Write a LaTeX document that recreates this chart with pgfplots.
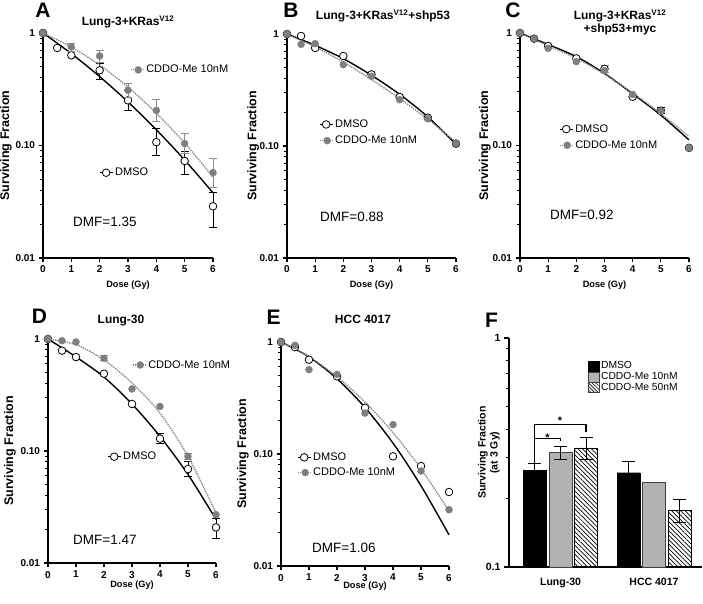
\documentclass[border=0pt]{standalone}
\usepackage{fontspec}
\setmainfont{Liberation Sans}
\usepackage{pgfplots}
\pgfplotsset{compat=1.18}
\usetikzlibrary{patterns,patterns.meta}
\definecolor{mgray}{HTML}{7F7F7F}
\definecolor{lgray}{HTML}{8A8A8A}
\definecolor{bgray}{HTML}{B2B2B2}
\definecolor{egray}{HTML}{8C8C8C}

\begin{document}
\begin{tikzpicture}
\path[use as bounding box] (0pt,0pt) rectangle (703pt,604pt);

% ================= A =================
\begin{axis}[scale only axis, clip=false, at={(43pt,346pt)}, anchor=south west, width=170pt, height=225pt,
  ymode=log, xmin=0, xmax=6, ymin=0.01, ymax=1,
  axis x line=bottom, axis y line=left, axis line style={line width=1.5pt, black, -},
  tick align=outside, xtick={0,1,2,3,4,5,6}, xticklabels={0,1,2,3,4,5,6},
  ytick={0.01,0.1,1}, yticklabels={0.01,0.10,1},
  extra y ticks={0.02,0.03,0.04,0.05,0.06,0.07,0.08,0.09,0.2,0.3,0.4,0.5,0.6,0.7,0.8,0.9},
  extra y tick labels={}, extra y tick style={major tick length=3pt},
  major tick length=4.5pt,
  every tick/.style={line width=1.1pt, black},
  tick label style={font=\bfseries\fontsize{10}{10}\selectfont},
  xlabel={Dose (Gy)}, ylabel={Surviving Fraction},
  xlabel style={font=\bfseries\fontsize{9.2}{10}\selectfont, anchor=center, at={(axis description cs:0.5,-0.12)}},
  ylabel style={font=\bfseries\fontsize{12.5}{13}\selectfont, anchor=center, at={(axis description cs:-0.218,0.5)}},
  legend style={draw=none, fill=none, font=\fontsize{11}{12}\selectfont, at={(0.311,0.379)}, anchor=west},
  legend cell align=left]
\addplot[black, line width=1.4pt, smooth, no marks, forget plot] coordinates {(0,1) (1,0.656) (2,0.41) (3,0.244) (4,0.138) (5,0.0743) (6,0.038)};
\addplot[black, only marks, mark=none, forget plot, error bars/y dir=both, error bars/y explicit,
  error bars/error bar style={line width=0.9pt}, error bars/error mark options={rotate=90, mark size=4pt, line width=0.9pt}]
  coordinates {(2,0.466) += (0,0.068) -= (0,0.079) (3,0.252) += (0,0.058) -= (0,0.047)
  (4,0.107) += (0,0.034) -= (0,0.026) (5,0.0728) += (0,0.0165) -= (0,0.0177) (6,0.0288) += (0,0.0098) -= (0,0.0101)};
\addplot[only marks, mark=*, mark size=3.8pt, mark options={fill=white, draw=black, line width=0.8pt}, forget plot]
  coordinates {(0,1) (0.5,0.736) (1,0.633) (2,0.466) (3,0.252) (4,0.107) (5,0.0728) (6,0.0288)};
\addlegendimage{legend image code/.code={\draw[black,line width=1.1pt] (0pt,0pt) -- (13pt,0pt); \draw[black,line width=0.8pt,fill=white] (6.5pt,0pt) circle (3.8pt);}}
\addlegendentry{DMSO}
\end{axis}
\begin{axis}[scale only axis, clip=false, hide axis, at={(43pt,346pt)}, anchor=south west, width=170pt, height=225pt,
  ymode=log, xmin=0, xmax=6, ymin=0.01, ymax=1,
  legend style={draw=none, fill=none, font=\fontsize{11}{12}\selectfont, at={(0.494,0.836)}, anchor=west},
  legend cell align=left]
\addplot[lgray, line width=1.4pt, densely dotted, smooth, no marks, forget plot] coordinates {(0,1) (1,0.75) (2,0.52) (3,0.33) (4,0.194) (5,0.105) (6,0.0525)};
\addplot[egray, only marks, mark=none, forget plot, error bars/y dir=both, error bars/y explicit,
  error bars/error bar style={line width=0.9pt}, error bars/error mark options={rotate=90, mark size=4pt, line width=0.9pt}]
  coordinates {(1,0.751) += (0,0.064) -= (0,0.06) (2,0.625) += (0,0.075) -= (0,0.075)
  (3,0.31) += (0,0.044) -= (0,0.04) (4,0.205) += (0,0.052) -= (0,0.042) (5,0.104) += (0,0.024) -= (0,0.019)
  (6,0.0574) += (0,0.0201) -= (0,0.0147)};
\addplot[only marks, mark=*, mark size=3.5pt, mark options={fill=mgray, draw=mgray}, forget plot]
  coordinates {(0,1) (1,0.751) (2,0.625) (3,0.31) (4,0.205) (5,0.104) (6,0.0574)};
\addlegendimage{legend image code/.code={\draw[lgray,line width=1.1pt,densely dotted] (0pt,0pt) -- (13pt,0pt); \draw[mgray,fill=mgray] (7.5pt,0pt) circle (3.5pt);}}
\addlegendentry{CDDO-Me 10nM}
\end{axis}

% ================= B =================
\begin{axis}[scale only axis, clip=false, at={(287pt,346pt)}, anchor=south west, width=169pt, height=224pt,
  ymode=log, xmin=0, xmax=6, ymin=0.01, ymax=1,
  axis x line=bottom, axis y line=left, axis line style={line width=1.5pt, black, -},
  tick align=outside, xtick={0,1,2,3,4,5,6}, xticklabels={0,1,2,3,4,5,6},
  ytick={0.01,0.1,1}, yticklabels={0.01,0.10,1},
  extra y ticks={0.02,0.03,0.04,0.05,0.06,0.07,0.08,0.09,0.2,0.3,0.4,0.5,0.6,0.7,0.8,0.9},
  extra y tick labels={}, extra y tick style={major tick length=3pt},
  major tick length=4.5pt,
  every tick/.style={line width=1.1pt, black},
  tick label style={font=\bfseries\fontsize{10}{10}\selectfont},
  xlabel={Dose (Gy)}, ylabel={Surviving Fraction},
  xlabel style={font=\bfseries\fontsize{9.2}{10}\selectfont, anchor=center, at={(axis description cs:0.5,-0.12)}},
  ylabel style={font=\bfseries\fontsize{12.5}{13}\selectfont, anchor=center, at={(axis description cs:-0.2,0.5)}},
  legend style={draw=none, fill=none, font=\fontsize{11}{12}\selectfont, at={(0.171,0.560)}, anchor=west, row sep=3pt},
  legend cell align=left]
\addplot[black, line width=1.4pt, smooth, no marks, forget plot] coordinates {(0,1) (1,0.792) (2,0.602) (3,0.428) (4,0.289) (5,0.182) (6,0.1035)};
\addplot[lgray, line width=1.4pt, densely dotted, smooth, no marks, forget plot] coordinates {(0,1) (1,0.765) (2,0.562) (3,0.391) (4,0.265) (5,0.173) (6,0.1086)};
\addplot[only marks, mark=*, mark size=3.8pt, mark options={fill=white, draw=black, line width=0.8pt}, forget plot]
  coordinates {(0,1) (0.5,0.96) (1,0.75) (2,0.636) (3,0.436) (4,0.274) (5,0.179) (6,0.105)};
\addplot[only marks, mark=*, mark size=3.5pt, mark options={fill=mgray, draw=mgray}, forget plot]
  coordinates {(0,1) (0.5,0.809) (1,0.82) (2,0.532) (3,0.419) (4,0.259) (5,0.175) (6,0.106)};
\addlegendimage{legend image code/.code={\draw[black,line width=1.1pt] (0pt,0pt) -- (13pt,0pt); \draw[black,line width=0.8pt,fill=white] (6.5pt,0pt) circle (3.8pt);}}
\addlegendentry{DMSO}
\addlegendimage{legend image code/.code={\draw[lgray,line width=1.1pt,densely dotted] (0pt,0pt) -- (13pt,0pt); \draw[mgray,fill=mgray] (7.5pt,0pt) circle (3.5pt);}}
\addlegendentry{CDDO-Me 10nM}
\end{axis}

% ================= C =================
\begin{axis}[scale only axis, clip=false, at={(520pt,346pt)}, anchor=south west, width=169pt, height=225pt,
  ymode=log, xmin=0, xmax=6, ymin=0.01, ymax=1,
  axis x line=bottom, axis y line=left, axis line style={line width=1.5pt, black, -},
  tick align=outside, xtick={0,1,2,3,4,5,6}, xticklabels={0,1,2,3,4,5,6},
  ytick={0.01,0.1,1}, yticklabels={0.01,0.10,1},
  extra y ticks={0.02,0.03,0.04,0.05,0.06,0.07,0.08,0.09,0.2,0.3,0.4,0.5,0.6,0.7,0.8,0.9},
  extra y tick labels={}, extra y tick style={major tick length=3pt},
  major tick length=4.5pt,
  every tick/.style={line width=1.1pt, black},
  tick label style={font=\bfseries\fontsize{10}{10}\selectfont},
  xlabel={Dose (Gy)}, ylabel={Surviving Fraction},
  xlabel style={font=\bfseries\fontsize{9.2}{10}\selectfont, anchor=center, at={(axis description cs:0.5,-0.12)}},
  ylabel style={font=\bfseries\fontsize{12.5}{13}\selectfont, anchor=center, at={(axis description cs:-0.207,0.5)}},
  legend style={draw=none, fill=none, font=\fontsize{11}{12}\selectfont, at={(0.213,0.537)}, anchor=west, row sep=3pt},
  legend cell align=left]
\addplot[black, line width=1.4pt, smooth, no marks, forget plot] coordinates {(0,1) (1,0.79) (2,0.616) (3,0.437) (4,0.288) (5,0.186) (6,0.112)};
\addplot[lgray, line width=1.4pt, densely dotted, smooth, no marks, forget plot] coordinates {(0,1) (1,0.77) (2,0.595) (3,0.43) (4,0.293) (5,0.192) (6,0.12)};
\addplot[black, only marks, mark=none, forget plot, error bars/y dir=both, error bars/y explicit,
  error bars/error bar style={line width=0.9pt}, error bars/error mark options={rotate=90, mark size=4pt, line width=0.9pt}]
  coordinates {(5,0.204) += (0,0.012) -= (0,0.01)};
\addplot[egray, only marks, mark=none, forget plot, error bars/y dir=both, error bars/y explicit,
  error bars/error bar style={line width=0.9pt}, error bars/error mark options={rotate=90, mark size=4pt, line width=0.9pt}]
  coordinates {(3,0.462) += (0,0.05) -= (0,0.02)};
\addplot[only marks, mark=*, mark size=3.8pt, mark options={fill=white, draw=black, line width=0.8pt}, forget plot]
  coordinates {(0,1) (0.5,0.89) (1,0.766) (2,0.595) (3,0.48) (4,0.271) (5,0.204) (6,0.0953)};
\addplot[only marks, mark=*, mark size=3.5pt, mark options={fill=mgray, draw=mgray}, forget plot]
  coordinates {(0,1) (0.5,0.89) (1,0.73) (2,0.556) (3,0.462) (4,0.284) (5,0.202) (6,0.0953)};
\addlegendimage{legend image code/.code={\draw[black,line width=1.1pt] (0pt,0pt) -- (13pt,0pt); \draw[black,line width=0.8pt,fill=white] (6.5pt,0pt) circle (3.8pt);}}
\addlegendentry{DMSO}
\addlegendimage{legend image code/.code={\draw[lgray,line width=1.1pt,densely dotted] (0pt,0pt) -- (13pt,0pt); \draw[mgray,fill=mgray] (7.5pt,0pt) circle (3.5pt);}}
\addlegendentry{CDDO-Me 10nM}
\end{axis}

% ================= D =================
\begin{axis}[scale only axis, clip=false, at={(48pt,41pt)}, anchor=south west, width=168pt, height=224pt,
  ymode=log, xmin=0, xmax=6, ymin=0.01, ymax=1,
  axis x line=bottom, axis y line=left, axis line style={line width=1.5pt, black, -},
  tick align=outside, xtick={0,1,2,3,4,5,6}, xticklabels={0,1,2,3,4,5,6},
  ytick={0.01,0.1,1}, yticklabels={0.01,0.10,1},
  extra y ticks={0.02,0.03,0.04,0.05,0.06,0.07,0.08,0.09,0.2,0.3,0.4,0.5,0.6,0.7,0.8,0.9},
  extra y tick labels={}, extra y tick style={major tick length=3pt},
  major tick length=4.5pt,
  every tick/.style={line width=1.1pt, black},
  tick label style={font=\bfseries\fontsize{10}{10}\selectfont},
  xlabel={Dose (Gy)}, ylabel={Surviving Fraction},
  xlabel style={font=\bfseries\fontsize{9.2}{10}\selectfont, anchor=center, at={(axis description cs:0.5,-0.098)}},
  ylabel style={font=\bfseries\fontsize{12.5}{13}\selectfont, anchor=center, at={(axis description cs:-0.226,0.5)}},
  legend style={draw=none, fill=none, font=\fontsize{11}{12}\selectfont, at={(0.333,0.4745)}, anchor=west},
  legend cell align=left]
\addplot[black, line width=1.4pt, smooth, no marks, forget plot] coordinates {(0,1) (1,0.692) (2,0.457) (3,0.263) (4,0.135) (5,0.0617) (6,0.0245)};
\addplot[black, only marks, mark=none, forget plot, error bars/y dir=both, error bars/y explicit,
  error bars/error bar style={line width=0.9pt}, error bars/error mark options={rotate=90, mark size=4pt, line width=0.9pt}]
  coordinates {(4,0.129) += (0,0.014) -= (0,0.013) (5,0.069) += (0,0.011) -= (0,0.0096) (6,0.0208) += (0,0.0044) -= (0,0.0043)};
\addplot[only marks, mark=*, mark size=3.8pt, mark options={fill=white, draw=black, line width=0.8pt}, forget plot]
  coordinates {(0,1) (0.5,0.787) (1,0.69) (2,0.49) (3,0.263) (4,0.129) (5,0.069) (6,0.0208)};
\addlegendimage{legend image code/.code={\draw[black,line width=1.1pt] (0pt,0pt) -- (13pt,0pt); \draw[black,line width=0.8pt,fill=white] (6.5pt,0pt) circle (3.8pt);}}
\addlegendentry{DMSO}
\end{axis}
\begin{axis}[scale only axis, clip=false, hide axis, at={(48pt,41pt)}, anchor=south west, width=168pt, height=224pt,
  ymode=log, xmin=0, xmax=6, ymin=0.01, ymax=1,
  legend style={draw=none, fill=none, font=\fontsize{11}{12}\selectfont, at={(0.482,0.884)}, anchor=west},
  legend cell align=left]
\addplot[lgray, line width=1.4pt, densely dotted, smooth, no marks, forget plot] coordinates {(0,1) (1,0.89) (2,0.65) (3,0.405) (4,0.218) (5,0.0896) (6,0.028)};
\addplot[egray, only marks, mark=none, forget plot, error bars/y dir=both, error bars/y explicit,
  error bars/error bar style={line width=0.9pt}, error bars/error mark options={rotate=90, mark size=4pt, line width=0.9pt}]
  coordinates {(2,0.672) += (0,0.04) -= (0,0.03) (5,0.0896) += (0,0.005) -= (0,0.005)};
\addplot[only marks, mark=*, mark size=3.5pt, mark options={fill=mgray, draw=mgray}, forget plot]
  coordinates {(0,1) (0.5,0.966) (1,0.94) (2,0.672) (3,0.358) (4,0.25) (5,0.0896) (6,0.027)};
\addlegendimage{legend image code/.code={\draw[lgray,line width=1.1pt,densely dotted] (0pt,0pt) -- (13pt,0pt); \draw[mgray,fill=mgray] (7.5pt,0pt) circle (3.5pt);}}
\addlegendentry{CDDO-Me 10nM}
\end{axis}

% ================= E =================
\begin{axis}[scale only axis, clip=false, at={(281pt,38pt)}, anchor=south west, width=168pt, height=224pt,
  ymode=log, xmin=0, xmax=6, ymin=0.01, ymax=1,
  axis x line=bottom, axis y line=left, axis line style={line width=1.5pt, black, -},
  tick align=outside, xtick={0,1,2,3,4,5,6}, xticklabels={0,1,2,3,4,5,6},
  ytick={0.01,0.1,1}, yticklabels={0.01,0.10,1},
  extra y ticks={0.02,0.03,0.04,0.05,0.06,0.07,0.08,0.09,0.2,0.3,0.4,0.5,0.6,0.7,0.8,0.9},
  extra y tick labels={}, extra y tick style={major tick length=3pt},
  major tick length=4.5pt,
  every tick/.style={line width=1.1pt, black},
  tick label style={font=\bfseries\fontsize{10}{10}\selectfont},
  xlabel={Dose (Gy)}, ylabel={Surviving Fraction},
  xlabel style={font=\bfseries\fontsize{9.2}{10}\selectfont, anchor=center, at={(axis description cs:0.5,-0.092)}},
  ylabel style={font=\bfseries\fontsize{12.5}{13}\selectfont, anchor=center, at={(axis description cs:-0.226,0.5)}},
  legend style={draw=none, fill=none, font=\fontsize{11}{12}\selectfont, at={(0.077,0.451)}, anchor=west, row sep=2pt},
  legend cell align=left]
\addplot[black, line width=1.4pt, smooth, no marks, forget plot] coordinates {(0,1) (1,0.736) (2,0.47) (3,0.26) (4,0.125) (5,0.052) (6,0.019)};
\addplot[lgray, line width=1.4pt, densely dotted, smooth, no marks, forget plot] coordinates {(0,1) (1,0.74) (2,0.49) (3,0.291) (4,0.155) (5,0.074) (6,0.031)};
\addplot[only marks, mark=*, mark size=3.8pt, mark options={fill=white, draw=black, line width=0.8pt}, forget plot]
  coordinates {(0,1) (0.5,0.9) (1,0.695) (2,0.494) (3,0.259) (4,0.0953) (5,0.078) (6,0.0458)};
\addplot[only marks, mark=*, mark size=3.5pt, mark options={fill=mgray, draw=mgray}, forget plot]
  coordinates {(0,1) (0.5,0.934) (1,0.566) (2,0.514) (3,0.232) (4,0.183) (5,0.0705) (6,0.0318)};
\addlegendimage{legend image code/.code={\draw[black,line width=1.1pt] (0pt,0pt) -- (13pt,0pt); \draw[black,line width=0.8pt,fill=white] (6.5pt,0pt) circle (3.8pt);}}
\addlegendentry{DMSO}
\addlegendimage{legend image code/.code={\draw[lgray,line width=1.1pt,densely dotted] (0pt,0pt) -- (13pt,0pt); \draw[mgray,fill=mgray] (7.5pt,0pt) circle (3.5pt);}}
\addlegendentry{CDDO-Me 10nM}
\end{axis}

% ================= F =================
\begin{axis}[scale only axis, clip=false, at={(509pt,37pt)}, anchor=south west, width=193pt, height=229pt,
  xmin=0, xmax=193, ymin=0.1, ymax=1, ymode=log, log origin=infty,
  axis x line=bottom, axis y line=left, axis line style={line width=1.5pt, black, -},
  tick align=outside,
  xtick={51.5,145}, xticklabels={Lung-30,HCC 4017},
  xticklabel style={yshift=-3pt},
  ytick={0.1,1}, yticklabels={0.1,1},
  extra y ticks={0.2,0.3,0.4,0.5,0.6,0.7,0.8,0.9},
  extra y tick labels={}, extra y tick style={major tick length=3.5pt},
  major tick length=5pt,
  every tick/.style={line width=1.1pt, black},
  x tick style={draw=none},
  tick label style={font=\bfseries\fontsize{10.5}{10.5}\selectfont},
  ylabel={Surviving Fraction\\(at 3 Gy)},
  ylabel style={font=\bfseries\fontsize{10.5}{12}\selectfont, align=center, anchor=center, at={(axis description cs:-0.104,0.5)}},
  legend style={draw=none, fill=none, font=\fontsize{10.3}{11}\selectfont, at={(0.39,0.915)}, anchor=north west, row sep=-2pt},
  legend cell align=left]
\addplot[ybar, bar width=23pt, bar shift=0pt, fill=black, draw=black, forget plot,
  error bars/y dir=both, error bars/y explicit,
  error bars/error bar style={black, line width=1pt}, error bars/error mark options={black, rotate=90, mark size=6.5pt, line width=1pt}]
  coordinates {(25.5,0.264) += (0,0.019) -= (0,0.019) (119.5,0.258) += (0,0.032) -= (0,0.032)};
\addplot[ybar, bar width=23pt, bar shift=0pt, fill=bgray, draw=darkgray, line width=0.6pt, forget plot,
  error bars/y dir=both, error bars/y explicit,
  error bars/error bar style={black, line width=1pt}, error bars/error mark options={black, rotate=90, mark size=6.5pt, line width=1pt}]
  coordinates {(51.5,0.316) += (0,0.02) -= (0,0.022)};
\addplot[ybar, bar width=23pt, bar shift=0pt, fill=bgray, draw=darkgray, line width=0.6pt, forget plot]
  coordinates {(145,0.234)};
\addplot[ybar, bar width=23pt, bar shift=0pt, pattern={Lines[angle=-45,distance=3.2pt,line width=0.7pt]}, draw=black, line width=0.6pt, forget plot,
  error bars/y dir=both, error bars/y explicit,
  error bars/error bar style={black, line width=1pt}, error bars/error mark options={black, rotate=90, mark size=6.5pt, line width=1pt}]
  coordinates {(77,0.331) += (0,0.036) -= (0,0.037) (170.5,0.177) += (0,0.02) -= (0,0.021)};
\addlegendimage{legend image code/.code={\draw[fill=black,draw=black] (0pt,-5pt) rectangle (11pt,5pt);}}
\addlegendentry{DMSO}
\addlegendimage{legend image code/.code={\draw[fill=bgray,draw=darkgray] (0pt,-5pt) rectangle (11pt,5pt);}}
\addlegendentry{CDDO-Me 10nM}
\addlegendimage{legend image code/.code={\draw[pattern={Lines[angle=-45,distance=2.5pt,line width=0.6pt]},draw=darkgray] (0pt,-5pt) rectangle (11pt,5pt);}}
\addlegendentry{CDDO-Me 50nM}
\draw[line width=1.1pt] (axis cs:25.5,0.283) -- (axis cs:25.5,0.42) -- (axis cs:77,0.42) -- (axis cs:77,0.39);
\draw[line width=1.1pt] (axis cs:25.5,0.365) -- (axis cs:51.5,0.365) -- (axis cs:51.5,0.355);
\node[font=\bfseries\fontsize{11}{11}\selectfont, anchor=base, inner sep=0pt] at (axis cs:38.5,0.355) {*};
\node[font=\bfseries\fontsize{11}{11}\selectfont, anchor=base, inner sep=0pt] at (axis cs:51,0.418) {*};
\end{axis}

% ---------- titles, panel letters and DMF texts ----------
\node[font=\bfseries\fontsize{12}{13}\selectfont, anchor=base, inner sep=0pt] at (128pt,578pt) {Lung-3+KRas\textsuperscript{V12}};
\node[font=\bfseries\fontsize{12}{13}\selectfont, anchor=base, inner sep=0pt] at (383pt,584.5pt) {Lung-3+KRas\textsuperscript{V12}+shp53};
\node[font=\bfseries\fontsize{12}{13}\selectfont, anchor=center, align=center, inner sep=0pt] at (620pt,581.5pt) {Lung-3+KRas\textsuperscript{V12}\\+shp53+myc};
\node[font=\bfseries\fontsize{12}{13}\selectfont, anchor=base, inner sep=0pt] at (121pt,280.5pt) {Lung-30};
\node[font=\bfseries\fontsize{12}{13}\selectfont, anchor=base, inner sep=0pt] at (363pt,280.5pt) {HCC 4017};
\node[font=\bfseries\fontsize{21}{21}\selectfont, inner sep=0pt] at (43pt,594pt) {A};
\node[font=\bfseries\fontsize{21}{21}\selectfont, inner sep=0pt] at (291pt,593.5pt) {B};
\node[font=\bfseries\fontsize{21}{21}\selectfont, inner sep=0pt] at (513pt,593.5pt) {C};
\node[font=\bfseries\fontsize{21}{21}\selectfont, inner sep=0pt] at (39.5pt,287.5pt) {D};
\node[font=\bfseries\fontsize{21}{21}\selectfont, inner sep=0pt] at (273.5pt,286.5pt) {E};
\node[font=\bfseries\fontsize{21}{21}\selectfont, inner sep=0pt] at (491.5pt,284pt) {F};
\node[font=\fontsize{13.5}{14}\selectfont, anchor=west, inner sep=0pt] at (73pt,382pt) {DMF=1.35};
\node[font=\fontsize{13.5}{14}\selectfont, anchor=west, inner sep=0pt] at (320pt,387pt) {DMF=0.88};
\node[font=\fontsize{13.5}{14}\selectfont, anchor=west, inner sep=0pt] at (550pt,389pt) {DMF=0.92};
\node[font=\fontsize{13.5}{14}\selectfont, anchor=west, inner sep=0pt] at (73pt,64pt) {DMF=1.47};
\node[font=\fontsize{13.5}{14}\selectfont, anchor=west, inner sep=0pt] at (312pt,56pt) {DMF=1.06};
\end{tikzpicture}
\end{document}
